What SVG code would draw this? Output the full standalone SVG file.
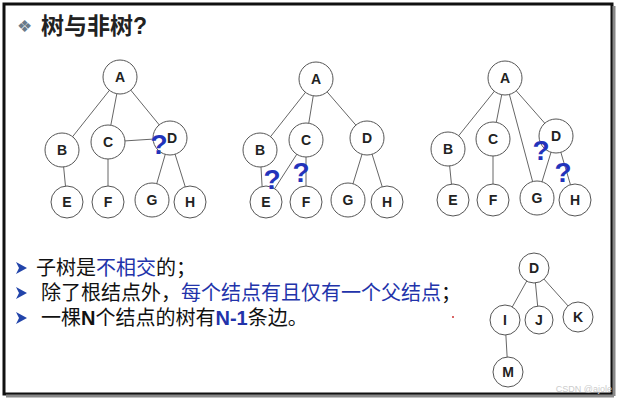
<svg xmlns="http://www.w3.org/2000/svg" width="620" height="406" viewBox="0 0 620 406">
<style>
.n circle{fill:#fff;stroke:#555;stroke-width:1}
.n text{font-family:"Liberation Sans",Arial,sans-serif;font-weight:bold;font-size:14px;text-anchor:middle;fill:#222}
#edges line{stroke:#666;stroke-width:1}
.q{font-family:"Liberation Sans",Arial,sans-serif;font-weight:bold;font-size:28px;fill:#2233bb;text-anchor:middle}
.t{font-family:"Liberation Sans","Noto Sans CJK SC",sans-serif;font-size:20px;fill:#111}
.b{fill:#2233aa}
.ar{fill:#2244aa}
</style>
<rect x="0" y="0" width="620" height="406" fill="#fff"/>
<rect x="4" y="4" width="608" height="390" fill="#fff" stroke="#111" stroke-width="3"/>
<line x1="614" y1="6" x2="614" y2="396" stroke="#888" stroke-width="3"/>
<line x1="6" y1="396" x2="614" y2="396" stroke="#888" stroke-width="3"/>
<g id="title">
<text x="17" y="32" font-family="Liberation Sans,sans-serif" font-size="17" fill="#6a7a8a">❖</text>
<text x="41" y="34" font-family="Liberation Sans,'Noto Sans CJK SC',sans-serif" font-size="23" font-weight="bold" fill="#222">树与非树?</text>
</g>
<g id="edges">
<line x1="120" y1="77" x2="62" y2="150"/><line x1="120" y1="77" x2="108" y2="140"/><line x1="120" y1="77" x2="170" y2="138"/>
<line x1="108" y1="142" x2="170" y2="138"/><line x1="62" y1="150" x2="67" y2="202"/><line x1="108" y1="142" x2="108" y2="202"/>
<line x1="170" y1="138" x2="152" y2="200"/><line x1="170" y1="138" x2="190" y2="202"/>
<line x1="316" y1="79" x2="260" y2="150"/><line x1="316" y1="79" x2="306" y2="140"/><line x1="316" y1="79" x2="367" y2="138"/>
<line x1="260" y1="150" x2="263" y2="202"/><line x1="306" y1="140" x2="266" y2="202"/><line x1="306" y1="140" x2="306" y2="202"/>
<line x1="367" y1="138" x2="348" y2="200"/><line x1="367" y1="138" x2="387" y2="202"/>
<line x1="505" y1="78" x2="448" y2="149"/><line x1="505" y1="78" x2="493" y2="139"/><line x1="505" y1="78" x2="556" y2="136"/><line x1="505" y1="78" x2="537" y2="198"/>
<line x1="448" y1="149" x2="453" y2="200"/><line x1="493" y1="139" x2="493" y2="200"/>
<line x1="556" y1="136" x2="537" y2="198"/><line x1="556" y1="136" x2="575" y2="200"/>
<line x1="534" y1="268" x2="505" y2="320"/><line x1="534" y1="268" x2="539" y2="320"/><line x1="534" y1="268" x2="578" y2="317"/><line x1="505" y1="320" x2="508" y2="372"/>
</g>
<g id="t1A" class="n"><circle cx="120" cy="77" r="17"/><text x="120" y="82">A</text></g>
<g id="t1B" class="n"><circle cx="62" cy="150" r="17"/><text x="62" y="155">B</text></g>
<g id="t1C" class="n"><circle cx="108" cy="142" r="17"/><text x="108" y="147">C</text></g>
<g id="t1D" class="n"><circle cx="170" cy="138" r="17"/><text x="172" y="143">D</text></g>
<g id="t1E" class="n"><circle cx="67" cy="202" r="16"/><text x="67" y="207">E</text></g>
<g id="t1F" class="n"><circle cx="108" cy="202" r="16"/><text x="108" y="207">F</text></g>
<g id="t1G" class="n"><circle cx="152" cy="200" r="17"/><text x="152" y="205">G</text></g>
<g id="t1H" class="n"><circle cx="190" cy="202" r="16"/><text x="190" y="207">H</text></g>
<g id="t2A" class="n"><circle cx="316" cy="79" r="17"/><text x="316" y="84">A</text></g>
<g id="t2B" class="n"><circle cx="260" cy="150" r="17"/><text x="260" y="155">B</text></g>
<g id="t2C" class="n"><circle cx="306" cy="140" r="17"/><text x="306" y="145">C</text></g>
<g id="t2D" class="n"><circle cx="367" cy="138" r="17"/><text x="367" y="143">D</text></g>
<g id="t2E" class="n"><circle cx="266" cy="202" r="16"/><text x="266" y="207">E</text></g>
<g id="t2F" class="n"><circle cx="306" cy="202" r="16"/><text x="306" y="207">F</text></g>
<g id="t2G" class="n"><circle cx="348" cy="200" r="17"/><text x="348" y="205">G</text></g>
<g id="t2H" class="n"><circle cx="387" cy="202" r="16"/><text x="387" y="207">H</text></g>
<g id="t3A" class="n"><circle cx="505" cy="78" r="17"/><text x="505" y="83">A</text></g>
<g id="t3B" class="n"><circle cx="448" cy="149" r="17"/><text x="448" y="154">B</text></g>
<g id="t3C" class="n"><circle cx="493" cy="139" r="17"/><text x="493" y="144">C</text></g>
<g id="t3D" class="n"><circle cx="556" cy="136" r="17"/><text x="556" y="141">D</text></g>
<g id="t3E" class="n"><circle cx="453" cy="200" r="16"/><text x="453" y="205">E</text></g>
<g id="t3F" class="n"><circle cx="493" cy="200" r="16"/><text x="493" y="205">F</text></g>
<g id="t3G" class="n"><circle cx="537" cy="198" r="17"/><text x="537" y="203">G</text></g>
<g id="t3H" class="n"><circle cx="575" cy="200" r="16"/><text x="575" y="205">H</text></g>
<g id="t4D" class="n"><circle cx="534" cy="268" r="15"/><text x="534" y="273">D</text></g>
<g id="t4I" class="n"><circle cx="505" cy="320" r="15"/><text x="505" y="325">I</text></g>
<g id="t4J" class="n"><circle cx="539" cy="320" r="14"/><text x="539" y="325">J</text></g>
<g id="t4K" class="n"><circle cx="578" cy="317" r="15"/><text x="578" y="322">K</text></g>
<g id="t4M" class="n"><circle cx="508" cy="372" r="15"/><text x="508" y="377">M</text></g>
<g id="qmarks">
<text class="q" x="159" y="154">?</text>
<text class="q" x="272" y="189">?</text>
<text class="q" x="301" y="182">?</text>
<text class="q" x="541" y="160">?</text>
<text class="q" x="563" y="182">?</text>
</g>
<g id="text" class="t">
<path class="ar" d="M16 262 L27 268 L16 274 L19 268 Z"/>
<path class="ar" d="M16 287 L27 293 L16 299 L19 293 Z"/>
<path class="ar" d="M16 312 L27 318 L16 324 L19 318 Z"/>
<text x="36" y="275">子树是<tspan class="b">不相交</tspan>的；</text>
<text x="41" y="300">除了根结点外，<tspan class="b">每个结点有且仅有一个父结点</tspan>；</text>
<text x="41" y="325">一棵<tspan font-weight="bold">N</tspan>个结点的树有<tspan class="b" font-weight="bold">N-1</tspan>条边。</text>
</g>
<circle cx="453" cy="317" r="1" fill="#c33"/>
<text x="612" y="392" font-family="Liberation Sans,sans-serif" font-size="9" fill="#ccc" text-anchor="end">CSDN @ajole</text>
</svg>
